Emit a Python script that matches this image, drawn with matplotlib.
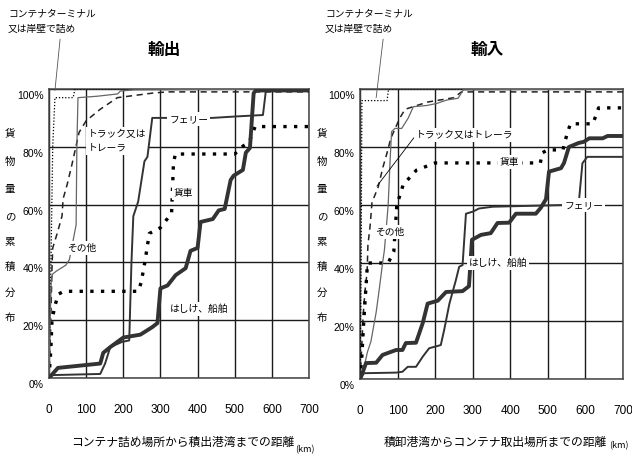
import matplotlib.pyplot as plt
import matplotlib.transforms as mtransforms

plt.rcParams['font.family'] = ['Noto Sans CJK JP', 'DejaVu Sans']

JP = ['Noto Sans CJK JP', 'DejaVu Sans']
NUM = ['Liberation Sans', 'DejaVu Sans']

x_ticks = [0, 100, 200, 300, 400, 500, 600, 700]
y_ticks = [0, 20, 40, 60, 80, 100]
y_label_chars = ['貨', '物', '量', 'の', '累', '積', '分', '布']

# 輸出: distance (km) vs cumulative share of cargo (%)
exp_terminal_km = [0, 3, 10, 16, 65, 70, 700]
exp_terminal_pct = [0, 20, 80, 97, 97, 100, 100]

exp_truck_km = [0, 4, 8, 10, 22, 35, 38, 49, 62, 81, 100, 138, 184, 280, 320, 700]
exp_truck_pct = [0, 15, 38, 45, 50, 56, 62, 67, 74, 85, 89, 93, 97, 98.6, 99, 99]

exp_rail_km = [0, 5, 8, 16, 25, 40, 240, 248, 258, 270, 300, 330, 335, 340, 500, 520, 540, 555, 700]
exp_rail_pct = [0, 10, 20, 25, 29, 30, 30, 33, 40, 50, 52, 57, 74, 77.5, 77.5, 80, 82, 87, 87]

exp_ferry_km = [0, 8, 138, 151, 165, 197, 216, 222, 227, 240, 257, 265, 278, 440, 503, 576, 584, 700]
exp_ferry_pct = [0, 1, 1.4, 5, 10.7, 12.5, 13, 40, 56, 61, 75, 76.5, 90, 90, 90.5, 91, 99.5, 99.5]

exp_barge_km = [0, 24, 138, 146, 165, 200, 246, 278, 292, 300, 319, 341, 368, 381, 400, 408,
                441, 457, 473, 489, 497, 522, 530, 541, 551, 557, 700]
exp_barge_pct = [0, 3.5, 5, 8.7, 10.7, 14, 15, 17.6, 19, 31, 32, 35.6, 38, 44, 45, 54,
                 55, 58, 58.5, 68.5, 70, 72, 78, 79.6, 98.6, 99.5, 99.5]

exp_other_km = [0, 3, 6, 10, 20, 45, 55, 73, 75, 78, 130, 185, 192, 230, 700]
exp_other_pct = [0, 20, 34, 36, 37, 39, 41, 53, 80, 97, 97.5, 98.3, 99.3, 99.7, 100]

# 輸入
imp_terminal_km = [0, 3, 5, 72, 76, 700]
imp_terminal_pct = [0, 40, 96, 96, 100, 100]

imp_truck_km = [0, 5, 8, 13, 19, 21, 27, 32, 48, 61, 72, 82, 106, 120, 180, 250, 270, 700]
imp_truck_pct = [0, 12, 21, 30, 37, 46, 53, 61, 66, 73, 78, 83, 90, 93, 95.5, 97, 99, 99]

imp_rail_km = [0, 5, 10, 15, 20, 75, 90, 98, 115, 150, 200, 480, 485, 500, 540, 550, 560, 620, 635, 700]
imp_rail_pct = [0, 8, 20, 30, 40, 40, 44, 60, 67, 72, 74.5, 74.5, 78, 79, 79, 84, 88, 88, 93.5, 93.5]

imp_ferry_km = [0, 3, 11, 96, 113, 127, 149, 167, 184, 215, 224, 238, 255, 264, 273, 282, 300,
                317, 353, 543, 583, 592, 605, 700]
imp_ferry_pct = [0, 0.8, 2, 2.2, 2.5, 4.2, 4.2, 7.7, 10.6, 11.7, 16.9, 26, 34, 38.7, 39.3, 57, 57.7,
                 58.8, 59.4, 60, 61.7, 74.4, 76.6, 76.6]

imp_barge_km = [0, 3, 16, 43, 60, 96, 113, 122, 149, 167, 180, 207, 229, 273, 290, 298, 322, 348,
                366, 397, 415, 468, 481, 495, 503, 535, 543, 556, 582, 596, 610, 646, 659, 700]
imp_barge_pct = [0, 0.8, 5.5, 5.6, 8.3, 10, 10, 12.4, 12.5, 19.3, 26, 27, 30, 30.3, 32, 48, 49.7, 50.3,
                 53.8, 53.9, 57, 57, 59, 62, 71.5, 72.7, 74.5, 80, 81.4, 81.8, 83, 83, 83.8, 83.8]

imp_other_km = [0, 3, 11, 20, 29, 43, 51, 60, 65, 75, 80, 84, 93, 111, 128, 142, 177, 204, 231, 261, 275, 700]
imp_other_pct = [0, 0.3, 4.2, 9.4, 12.9, 23, 30.7, 39.9, 44.5, 60, 75, 85.3, 86.4, 86.4, 89.9, 93.9,
                 94.3, 95, 96.2, 96.8, 99.7, 100]

STYLES = {
    'terminal': dict(color='black', lw=0.9, ls=(0, (1, 1.5))),
    'truck': dict(color='#222222', lw=1.1, ls=(0, (4, 3))),
    'rail': dict(color='black', lw=2.4, ls=(0, (1, 2.2)), dash_capstyle='butt'),
    'ferry': dict(color='#333333', lw=1.4, ls='-'),
    'barge': dict(color='#333333', lw=2.8, ls='-'),
    'other': dict(color='#666666', lw=0.9, ls='-'),
}


def setup_axes(ax):
    ax.set_xlim(0, 700)
    ax.set_ylim(0, 100)
    ax.set_xticks(x_ticks)
    ax.set_yticks(y_ticks)
    ax.set_xticklabels([str(v) for v in x_ticks], family=NUM, fontsize=8.5)
    ax.set_yticklabels(['%d%%' % v for v in y_ticks], family=NUM, fontsize=7.5)
    ax.tick_params(length=0)
    ax.tick_params(axis='x', pad=19)
    ax.tick_params(axis='y', pad=4)
    shift = mtransforms.ScaledTranslation(0, -6 / 100, ax.figure.dpi_scale_trans)
    for lab in ax.get_yticklabels():
        lab.set_transform(lab.get_transform() + shift)
    ax.set_axisbelow(True)
    ax.grid(color='#1a1a1a', lw=1.0)
    for sp in ax.spines.values():
        sp.set_color('#444444')
        sp.set_linewidth(1.1)


def put_label(ax, text, x, y, z=6, ha='center', fs=7):
    ax.text(x, y, text, ha=ha, va='center', fontsize=fs, family=JP, zorder=z,
            linespacing=1.5,
            bbox=dict(facecolor='white', edgecolor='none', pad=1.5))


def draw_series(ax, series):
    for key, km, pct in series:
        ax.plot(km, pct, zorder=3, **STYLES[key])


fig = plt.figure(figsize=(6.32, 4.61), dpi=100)
ax_exp = fig.add_axes([49 / 632, 83 / 461, 260 / 632, 289 / 461])
ax_imp = fig.add_axes([360 / 632, 82 / 461, 263 / 632, 290 / 461])

setup_axes(ax_exp)
setup_axes(ax_imp)

draw_series(ax_exp, [
    ('terminal', exp_terminal_km, exp_terminal_pct),
    ('truck', exp_truck_km, exp_truck_pct),
    ('rail', exp_rail_km, exp_rail_pct),
    ('other', exp_other_km, exp_other_pct),
    ('ferry', exp_ferry_km, exp_ferry_pct),
    ('barge', exp_barge_km, exp_barge_pct),
])
draw_series(ax_imp, [
    ('terminal', imp_terminal_km, imp_terminal_pct),
    ('truck', imp_truck_km, imp_truck_pct),
    ('rail', imp_rail_km, imp_rail_pct),
    ('other', imp_other_km, imp_other_pct),
    ('ferry', imp_ferry_km, imp_ferry_pct),
    ('barge', imp_barge_km, imp_barge_pct),
])

# series labels, 輸出
put_label(ax_exp, 'トラック又は\nトレーラ', 105, 82, z=2.5, ha='left')
put_label(ax_exp, 'フェリー', 376, 89.6)
put_label(ax_exp, '貨車', 362, 64)
put_label(ax_exp, 'その他', 89, 45)
put_label(ax_exp, 'はしけ、船舶', 405, 24)

# series labels, 輸入
put_label(ax_imp, '貨車', 399, 74.8)
put_label(ax_imp, 'その他', 80, 50.7)
put_label(ax_imp, 'はしけ、船舶', 367, 40)
put_label(ax_imp, 'フェリー', 596, 60)
ax_imp.annotate('トラック又はトレーラ', xy=(45, 66.5), xytext=(416, 461 - 135),
                textcoords='figure pixels', ha='left', va='center', fontsize=7, family=JP,
                zorder=6, bbox=dict(facecolor='white', edgecolor='none', pad=1.5),
                arrowprops=dict(arrowstyle='-', lw=0.6, color='black', relpos=(0, 0.5),
                                shrinkA=0, shrinkB=0))

# container terminal notes with leader lines
ax_exp.annotate('コンテナターミナル\n又は岸壁で詰め', xy=(16, 99.5), xytext=(8, 461 - 8),
                textcoords='figure pixels', ha='left', va='top', fontsize=7, family=JP,
                linespacing=1.7, annotation_clip=False,
                arrowprops=dict(arrowstyle='-', lw=0.6, color='#555555', relpos=(0.6, 0),
                                shrinkA=2, shrinkB=0))
ax_imp.annotate('コンテナターミナル\n又は岸壁で詰め', xy=(43, 97), xytext=(325, 461 - 8),
                textcoords='figure pixels', ha='left', va='top', fontsize=7, family=JP,
                linespacing=1.7, annotation_clip=False,
                arrowprops=dict(arrowstyle='-', lw=0.6, color='#555555', relpos=(0.67, 0),
                                shrinkA=2, shrinkB=0))

# titles
fig.text(164 / 632, 1 - 50 / 461, '輸出', ha='center', va='center', fontsize=12, weight='bold', family=JP)
fig.text(487 / 632, 1 - 50 / 461, '輸入', ha='center', va='center', fontsize=12, weight='bold', family=JP)

# vertical y-axis titles
char_rows = [133, 162, 189, 216, 242, 267, 293, 318]
for ch, row in zip(y_label_chars, char_rows):
    fig.text(10 / 632, 1 - row / 461, ch, ha='center', va='center', fontsize=7.5, family=JP)
    fig.text(322 / 632, 1 - row / 461, ch, ha='center', va='center', fontsize=7.5, family=JP)

# x-axis titles
fig.text(183 / 632, 1 - 442 / 461, 'コンテナ詰め場所から積出港湾までの距離', ha='center', va='center',
         fontsize=8.5, family=JP)
fig.text(305 / 632, 1 - 450 / 461, '(km)', ha='center', va='center', fontsize=6.5, family=JP)
fig.text(495 / 632, 1 - 442 / 461, '積卸港湾からコンテナ取出場所までの距離', ha='center', va='center',
         fontsize=8.5, family=JP)
fig.text(629 / 632, 1 - 446 / 461, '(km)', ha='right', va='center', fontsize=6.5, family=JP)

fig.savefig('out.png', dpi=100)
